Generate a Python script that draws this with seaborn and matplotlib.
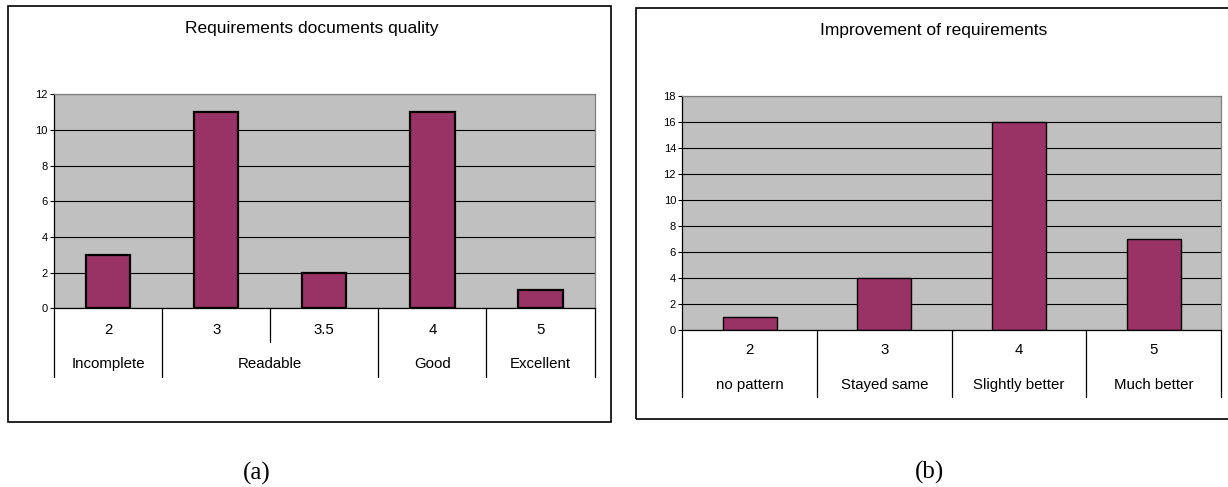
import matplotlib
matplotlib.use("Agg")
import matplotlib.pyplot as plt
import seaborn as sns
import pandas as pd
from matplotlib.transforms import blended_transform_factory
from matplotlib.patches import Rectangle

# ---- data -------------------------------------------------------------
quality_scores = ["2", "3", "3.5", "4", "5"]
quality_counts = [3, 11, 2, 11, 1]
quality_groups = ["Incomplete", "Readable", "Readable", "Good", "Excellent"]

improvement_scores = ["2", "3", "4", "5"]
improvement_counts = [1, 4, 16, 7]
improvement_groups = ["no pattern", "Stayed same", "Slightly better", "Much better"]

# ---- style ------------------------------------------------------------
sns.set_theme(style="white")
plt.rcParams["font.family"] = ["Liberation Sans", "DejaVu Sans"]

BAR = "#993366"
PLOT_BG = "#C0C0C0"
LABEL_SIZE = 10.8

W, H = 1228, 487
fig = plt.figure(figsize=(W / 100, H / 100), dpi=100)
fig.patch.set_facecolor("white")


def rect(x0, y0, x1, y1):
    """Pixel box (top-left origin) -> figure-fraction axes rectangle."""
    return [x0 / W, 1 - y1 / H, (x1 - x0) / W, (y1 - y0) / H]


def frame(x0, y0, x1, y1):
    fig.patches.append(Rectangle((x0 / W, 1 - y1 / H), (x1 - x0) / W, (y1 - y0) / H,
                                 transform=fig.transFigure, fill=False,
                                 edgecolor="black", lw=1.2, zorder=0))


def draw_panel(box, scores, counts, groups, ymax, ystep, bar_width, bar_lw,
               row1, row2, depth, short_depth):
    ax = fig.add_axes(rect(*box))
    ax_h = box[3] - box[1]
    df = pd.DataFrame({"score": scores, "count": counts})
    sns.barplot(data=df, x="score", y="count", order=scores, color=BAR,
                saturation=1, width=bar_width, edgecolor="black",
                linewidth=bar_lw, ax=ax)
    n = len(scores)
    ax.set_facecolor(PLOT_BG)
    ax.set_xlim(-0.5, n - 0.5)
    ax.set_ylim(0, ymax)
    ax.set_yticks(range(0, ymax + 1, ystep))
    ax.set_xticks([])
    ax.set_xlabel("")
    ax.set_ylabel("")
    ax.yaxis.grid(True, color="black", lw=0.8)
    ax.set_axisbelow(True)
    ax.tick_params(axis="y", left=True, length=3, width=0.8, color="black",
                   pad=1.5, labelsize=8, labelcolor="black")
    for side in ("left", "bottom"):
        ax.spines[side].set_color("black")
        ax.spines[side].set_linewidth(0.9)
    for side in ("top", "right"):
        ax.spines[side].set_color("#808080")
        ax.spines[side].set_linewidth(0.9)

    tr = blended_transform_factory(ax.transData, ax.transAxes)
    f = lambda px: -px / ax_h

    # score row
    for i, s in enumerate(scores):
        ax.text(i, f(row1), s, transform=tr, ha="center", va="center",
                fontsize=LABEL_SIZE, color="black")

    # dividers: full height between groups, short inside a group
    for b in range(n + 1):
        xd = b - 0.5
        inner = 0 < b < n and groups[b - 1] == groups[b]
        d = short_depth if inner else depth
        ax.plot([xd, xd], [0, f(d)], transform=tr, color="black", lw=0.9,
                clip_on=False)

    # group labels centred over their span of categories
    start = 0
    for i in range(1, n + 1):
        if i == n or groups[i] != groups[start]:
            ax.text((start + i - 1) / 2, f(row2), groups[start], transform=tr,
                    ha="center", va="center", fontsize=LABEL_SIZE, color="black")
            start = i
    return ax


# left panel
frame(7.7, 5.7, 610.7, 422)
draw_panel((54, 94.3, 594.5, 308.3), quality_scores, quality_counts,
           quality_groups, 12, 2, 0.41, 1.6, 21.7, 55.7, 68.4, 33.4)
fig.text(312 / W, 1 - 28 / H, "Requirements documents quality",
         ha="center", va="center", fontsize=12.5, color="black")

# right panel
frame(636, 8, 1234, 419)
draw_panel((682.3, 96, 1221, 329.5), improvement_scores, improvement_counts,
           improvement_groups, 18, 2, 0.40, 1.0, 20.5, 55.5, 67.8, 67.8)
fig.text(933.5 / W, 1 - 30 / H, "Improvement of requirements",
         ha="center", va="center", fontsize=12.5, color="black")

# sub-figure captions
fig.text(257 / W, 1 - 473 / H, "(a)", ha="center", va="center", fontsize=18,
         family=["Liberation Serif", "DejaVu Serif"], color="black")
fig.text(930 / W, 1 - 472 / H, "(b)", ha="center", va="center", fontsize=18,
         family=["Liberation Serif", "DejaVu Serif"], color="black")

fig.savefig("out.png", dpi=100, facecolor="white")
